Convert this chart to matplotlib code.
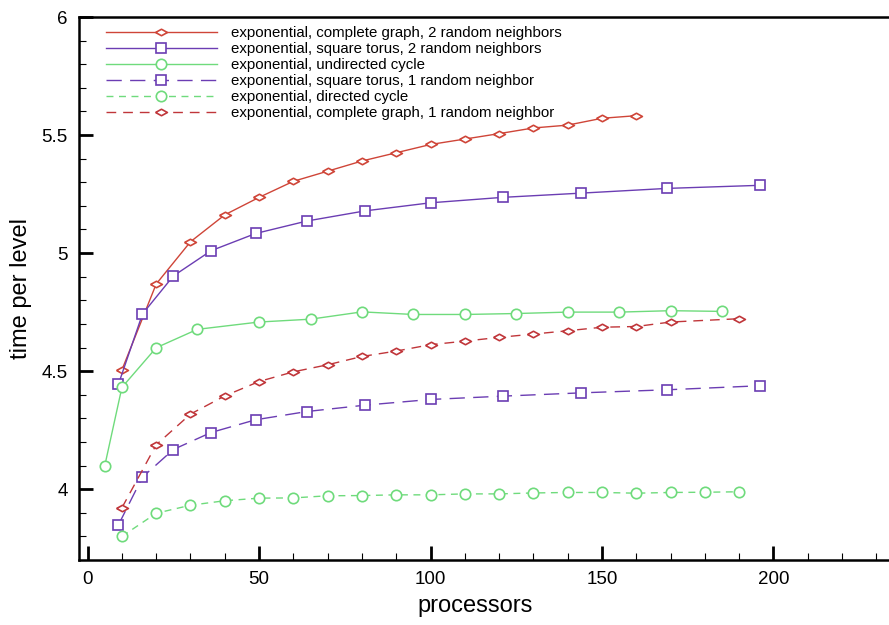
import matplotlib
matplotlib.use("Agg")
import matplotlib.pyplot as plt
from matplotlib.ticker import MultipleLocator

plt.rcParams['font.family'] = ['Liberation Sans', 'DejaVu Sans']

# complete graph, 2 random neighbors
cg2_x = [10, 20, 30, 40, 50, 60, 70, 80, 90, 100, 110, 120, 130, 140, 150, 160]
cg2_y = [4.505, 4.869, 5.048, 5.162, 5.236, 5.304, 5.347, 5.390, 5.425, 5.460,
         5.483, 5.506, 5.530, 5.542, 5.571, 5.582]

# square torus, 2 random neighbors
st2_x = [9, 16, 25, 36, 49, 64, 81, 100, 121, 144, 169, 196]
st2_y = [4.445, 4.742, 4.903, 5.010, 5.083, 5.136, 5.179, 5.213, 5.236, 5.254, 5.274, 5.287]

# undirected cycle
uc_x = [5, 10, 20, 32, 50, 65, 80, 95, 110, 125, 140, 155, 170, 185]
uc_y = [4.099, 4.431, 4.599, 4.677, 4.708, 4.720, 4.751, 4.740, 4.740, 4.744,
        4.750, 4.750, 4.756, 4.753]

# square torus, 1 random neighbor
st1_x = [9, 16, 25, 36, 49, 64, 81, 100, 121, 144, 169, 196]
st1_y = [3.849, 4.051, 4.168, 4.240, 4.294, 4.329, 4.356, 4.380, 4.394, 4.408, 4.421, 4.438]

# directed cycle
dc_x = [10, 20, 30, 40, 50, 60, 70, 80, 90, 100, 110, 120, 130, 140, 150, 160, 170, 180, 190]
dc_y = [3.800, 3.898, 3.932, 3.951, 3.962, 3.963, 3.972, 3.973, 3.976, 3.976, 3.980,
        3.980, 3.984, 3.986, 3.986, 3.983, 3.986, 3.987, 3.989]

# complete graph, 1 random neighbor
cg1_x = [10, 20, 30, 40, 50, 60, 70, 80, 90, 100, 110, 120, 130, 140, 150, 160, 170, 190]
cg1_y = [3.921, 4.188, 4.318, 4.395, 4.456, 4.497, 4.527, 4.562, 4.585, 4.612, 4.627,
         4.643, 4.657, 4.671, 4.686, 4.689, 4.708, 4.722]

labels = ["exponential, complete graph, 2 random neighbors",
          "exponential, square torus, 2 random neighbors",
          "exponential, undirected cycle",
          "exponential, square torus, 1 random neighbor",
          "exponential, directed cycle",
          "exponential, complete graph, 1 random neighbor"]

red = "#cf4538"
red2 = "#c0363a"
purple = "#6b3db3"
green = "#6fdb7c"

# flat diamond marker
diamond = [(-1, 0), (0, 0.55), (1, 0), (0, -0.55), (-1, 0)]

fig = plt.figure(figsize=(8.89, 6.25), dpi=100)
ax = fig.add_axes([0.0889, 0.104, 0.9111, 0.8688])

common = dict(markerfacecolor="white", markeredgewidth=1.2, linewidth=1.0)

ax.plot(cg2_x, cg2_y, color=red, marker=diamond, markersize=8.5, label=labels[0], **common)
ax.plot(st2_x, st2_y, color=purple, marker="s", markersize=7, label=labels[1], **common)
ax.plot(uc_x, uc_y, color=green, marker="o", markersize=7.5, label=labels[2], **common)
ax.plot(st1_x, st1_y, color=purple, marker="s", markersize=7, linestyle=(0, (11, 6)),
        label=labels[3], **common)
ax.plot(dc_x, dc_y, color=green, marker="o", markersize=7.5, linestyle=(0, (5, 4)),
        label=labels[4], **common)
ax.plot(cg1_x, cg1_y, color=red2, marker=diamond, markersize=8.5, linestyle=(0, (7, 5)),
        label=labels[5], **common)

ax.set_xlim(-2.5, 233.7)
ax.set_ylim(3.7, 6.0)
ax.set_xticks([0, 50, 100, 150, 200])
ax.set_yticks([4, 4.5, 5, 5.5, 6])
ax.set_yticklabels(["4", "4.5", "5", "5.5", "6"])
ax.xaxis.set_minor_locator(MultipleLocator(10))
ax.yaxis.set_minor_locator(MultipleLocator(0.1))

ax.tick_params(which="both", direction="in", top=False, right=False, labelsize=13.5)
ax.tick_params(which="major", length=10, width=2)
ax.tick_params(which="minor", length=5, width=0.8)
ax.tick_params(axis="y", which="major", pad=8)
ax.tick_params(axis="x", which="major", pad=8)

for s in ["left", "bottom", "top"]:
    ax.spines[s].set_linewidth(1.8)
ax.spines["right"].set_visible(False)

ax.set_xlabel("processors", fontsize=17)
ax.set_ylabel("time per level", fontsize=17)
ax.xaxis.set_label_coords(0.489, -0.065)
ax.yaxis.set_label_coords(-0.058, 0.5)

ax.legend(loc="upper left", bbox_to_anchor=(0.033, 0.983), frameon=False,
          fontsize=10.8, handlelength=7.4, handletextpad=0.95, labelspacing=0.13,
          borderpad=0, borderaxespad=0, numpoints=1)

fig.savefig("out.png", dpi=100)
